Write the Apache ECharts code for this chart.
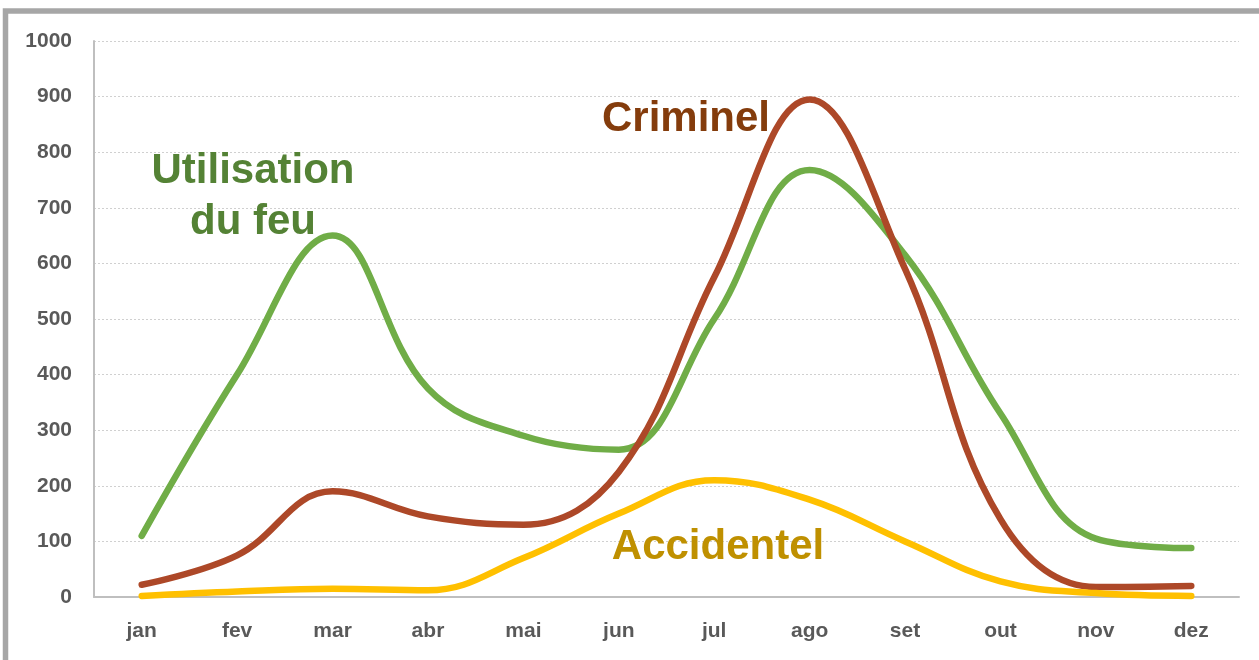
<!DOCTYPE html>
<html>
<head>
<meta charset="utf-8">
<script src="https://cdn.jsdelivr.net/npm/echarts@6/dist/echarts.min.js"></script>
<style>
  html, body { margin: 0; padding: 0; background: #fff; }
  #chart { width: 1259px; height: 660px; }
</style>
</head>
<body>
<div id="chart"></div>
<script>
// mois
const months = ['jan', 'fev', 'mar', 'abr', 'mai', 'jun', 'jul', 'ago', 'set', 'out', 'nov', 'dez']
// causes des incendies
const utilisation = [110, 400, 650, 375, 290, 265, 500, 768, 615, 330, 105, 88]
const criminel = [22, 75, 190, 145, 130, 225, 575, 895, 590, 140, 18, 20]
const accidentel = [2, 10, 15, 12, 70, 150, 210, 175, 100, 28, 7, 2]
const yTicks = [0, 100, 200, 300, 400, 500, 600, 700, 800, 900, 1000]

const font = '"Liberation Sans", Arial, sans-serif'

const myChart = echarts.init(document.getElementById('chart'))

function lineSeries (name, data, color) {
  return {
    name: name,
    type: 'line',
    data: data,
    smooth: 0.4,
    showSymbol: false,
    lineStyle: { width: 6.5, color: color, cap: 'round', join: 'round' },
    itemStyle: { color: color },
    z: 3
  }
}

myChart.setOption({
  backgroundColor: '#fff',
  animation: false,
  grid: { left: 94, right: 20, top: 41, bottom: 63 },
  xAxis: {
    type: 'category',
    data: months,
    boundaryGap: true,
    axisLine: { lineStyle: { color: '#bfbfbf', width: 2 } },
    axisTick: { show: false },
    axisLabel: {
      margin: 24,
      fontSize: 21,
      fontWeight: 'bold',
      fontFamily: font,
      color: '#595959'
    }
  },
  yAxis: {
    type: 'value',
    min: yTicks[0],
    max: yTicks[yTicks.length - 1],
    interval: 100,
    axisLine: { show: true, lineStyle: { color: '#bfbfbf', width: 2 } },
    axisTick: { show: false },
    axisLabel: {
      margin: 22,
      fontSize: 21,
      fontWeight: 'bold',
      fontFamily: font,
      color: '#595959',
      formatter: (v) => String(v)
    },
    splitLine: { lineStyle: { color: '#d0d0d0', type: [2, 2], width: 1 } }
  },
  series: [
    lineSeries('Utilisation du feu', utilisation, '#70ad47'),
    lineSeries('Criminel', criminel, '#ad4828'),
    lineSeries('Accidentel', accidentel, '#ffc000')
  ],
  graphic: [
    {
      type: 'rect',
      shape: { x: 5.5, y: 11, width: 1400, height: 800 },
      style: { fill: 'none', stroke: '#a6a6a6', lineWidth: 5.5 },
      silent: true
    },
    {
      type: 'text', x: 253, y: 171, z: 10,
      style: { text: 'Utilisation', fill: '#548235', font: 'bold 42px ' + font, align: 'center', verticalAlign: 'middle' }
    },
    {
      type: 'text', x: 253, y: 222, z: 10,
      style: { text: 'du feu', fill: '#548235', font: 'bold 42px ' + font, align: 'center', verticalAlign: 'middle' }
    },
    {
      type: 'text', x: 686, y: 119, z: 10,
      style: { text: 'Criminel', fill: '#843c0c', font: 'bold 42px ' + font, align: 'center', verticalAlign: 'middle' }
    },
    {
      type: 'text', x: 718, y: 547, z: 10,
      style: { text: 'Accidentel', fill: '#bf9000', font: 'bold 42px ' + font, align: 'center', verticalAlign: 'middle' }
    }
  ]
})

window.addEventListener('resize', () => {
  myChart.resize()
})
</script>
</body>
</html>
